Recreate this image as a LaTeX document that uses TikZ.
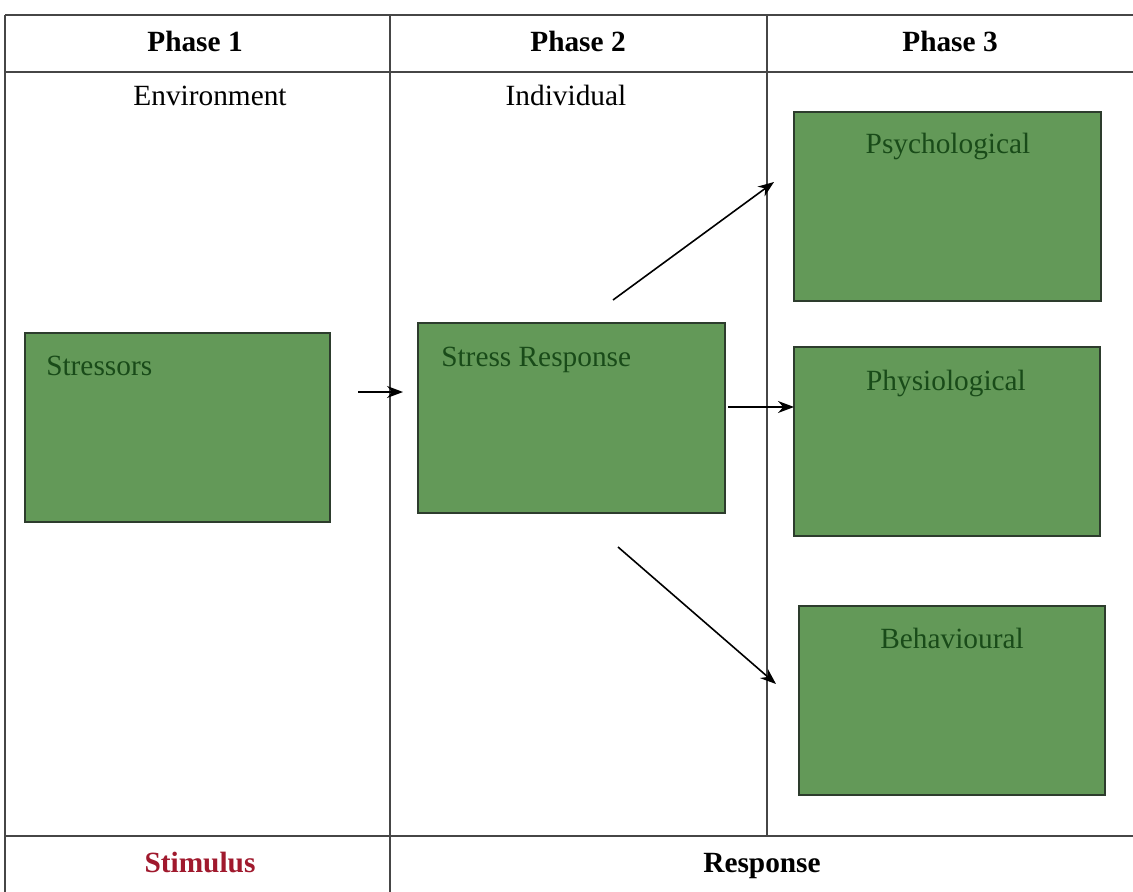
\documentclass[tikz,border=0pt]{standalone}
\usepackage{fontspec}
\setmainfont{Liberation Serif}
\usetikzlibrary{arrows.meta}
\definecolor{boxgreen}{RGB}{99,153,88}
\definecolor{boxedge}{RGB}{45,60,45}
\definecolor{boxtext}{RGB}{25,75,25}
\definecolor{stimred}{RGB}{160,25,45}
\definecolor{rule}{RGB}{70,70,70}
\tikzset{
  gridline/.style={draw=rule, line width=0.9pt},
  gbox/.style={draw=boxedge, line width=1.2pt, fill=boxgreen, inner sep=0pt, outer sep=0pt, anchor=north west},
  btext/.style={inner sep=0pt, font=\fontsize{22}{26}\selectfont, text=boxtext},
  htext/.style={inner sep=0pt, font=\fontsize{22}{26}\selectfont\bfseries},
  ctext/.style={inner sep=0pt, font=\fontsize{22}{26}\selectfont},
  arr/.style={draw=black, line width=1.2pt, -{Stealth[length=12pt,width=9pt]}}
}
\begin{document}
\begin{tikzpicture}[x=0.75pt, y=-0.75pt]
\useasboundingbox (0,0) rectangle (1133,892);
\fill[white] (0,0) rectangle (1133,892);
% table rules
\draw[gridline] (5,15) -- (1133,15);
\draw[gridline] (5,72) -- (1133,72);
\draw[gridline] (5,836) -- (1133,836);
\draw[gridline] (5,15) -- (5,892);
\draw[gridline] (390,15) -- (390,892);
\draw[gridline] (767,15) -- (767,836);
% headers
\node[htext, anchor=base] (p1) at (195,52) {Phase 1};
\node[htext, anchor=base] (p2) at (578,52) {Phase 2};
\node[htext, anchor=base] (p3) at (950,52) {Phase 3};
\node[ctext, anchor=base] (env) at (210,106) {Environment};
\node[ctext, anchor=base] (ind) at (566,106) {Individual};
% bottom row
\node[htext, anchor=base, text=stimred] (stim) at (200,872) {Stimulus};
\node[htext, anchor=base] (resp) at (762,872) {Response};
% boxes (sizes in px * 0.75pt)
\node[gbox, minimum width=228.75pt, minimum height=141.75pt] (str) at (25,333) {};
\node[btext, anchor=base west] (strt) at (46,375) {Stressors};
\node[gbox, minimum width=230.25pt, minimum height=142.5pt] (sr) at (418,323) {};
\node[btext, anchor=base west] (srt) at (441,366) {Stress Response};
\node[gbox, minimum width=230.25pt, minimum height=141.75pt] (psy) at (794,112) {};
\node[btext, anchor=base] (psyt) at (948,153) {Psychological};
\node[gbox, minimum width=229.5pt, minimum height=141.75pt] (phy) at (794,347) {};
\node[btext, anchor=base] (phyt) at (946,390) {Physiological};
\node[gbox, minimum width=229.5pt, minimum height=141.75pt] (beh) at (799,606) {};
\node[btext, anchor=base] (beht) at (952,648) {Behavioural};
% connector ends
\coordinate (a1s) at (358,392);
\coordinate (a1e) at (403,392);
\coordinate (a2s) at (613,300);
\coordinate (a2e) at (774,182);
\coordinate (a3s) at (728,407);
\coordinate (a4s) at (618,547);
\coordinate (a4e) at (776,684);
\draw[arr] (a1s) -- (a1e);
\draw[arr] (a2s) -- (a2e);
\draw[arr] (a3s) -- (a3s -| phy.west);
\draw[arr] (a4s) -- (a4e);
\end{tikzpicture}
\end{document}
